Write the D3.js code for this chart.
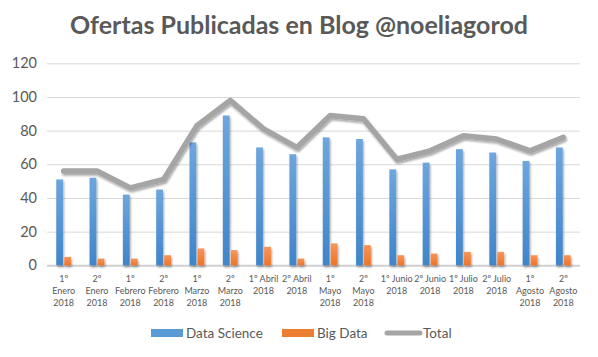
<!DOCTYPE html>
<html><head><meta charset="utf-8">
<script src="https://cdn.jsdelivr.net/npm/d3@7"></script>
<style>body{margin:0;background:#fff}svg{display:block}text{font-family:Lato,"Open Sans",sans-serif}</style>
</head><body><svg id="c" width="598" height="357"></svg>
<script>
const categories = [["1º","Enero","2018"],["2º","Enero","2018"],["1º","Febrero","2018"],["2º","Febrero","2018"],["1º","Marzo","2018"],["2º","Marzo","2018"],["1º Abril","2018"],["2º Abril","2018"],["1º","Mayo","2018"],["2º","Mayo","2018"],["1º Junio","2018"],["2º Junio","2018"],["1º Julio","2018"],["2º Julio","2018"],["1º","Agosto","2018"],["2º","Agosto","2018"]];
const dataScience = [51,52,42,45,73,89,70,66,76,75,57,61,69,67,62,70];
const bigData = [5,4,4,6,10,9,11,4,13,12,6,7,8,8,6,6];
const total = [56,56,46,51,83,98,81,70,89,87,63,68,77,75,68,76];
const yTicks = [0,20,40,60,80,100,120];
const seriesNames = ["Data Science","Big Data","Total"];
const title = "Ofertas Publicadas en Blog @noeliagorod";

const svg = d3.select("#c");
const W=598,H=357, L=47, R=580, T=63.3, B=265.3;
const keys = categories.map(c=>c.join(" "));
const x = d3.scaleBand().domain(keys).range([L,R]);
const y = d3.scaleLinear().domain([0,120]).range([B,T]);
const txt="#595959";

const defs = svg.append("defs");
function grad(id,c1,c2){const g=defs.append("linearGradient").attr("id",id).attr("x1",0).attr("y1",0).attr("x2",0).attr("y2",1);
 g.append("stop").attr("offset","0%").attr("stop-color",c1);g.append("stop").attr("offset","100%").attr("stop-color",c2);}
grad("gb","#6ea6dd","#3f85c9");
grad("go","#f7955a","#ee7427");
const f=defs.append("filter").attr("id","sh").attr("x","-50%").attr("y","-50%").attr("width","200%").attr("height","200%");
f.append("feGaussianBlur").attr("in","SourceAlpha").attr("stdDeviation",1.2).attr("result","b");
f.append("feOffset").attr("in","b").attr("dx",1).attr("dy",1.5).attr("result","o");
f.append("feComponentTransfer").attr("in","o").attr("result","o2").append("feFuncA").attr("type","linear").attr("slope",0.35);
const m=f.append("feMerge");m.append("feMergeNode").attr("in","o2");m.append("feMergeNode").attr("in","SourceGraphic");

svg.append("text").attr("x",W/2).attr("y",34).attr("text-anchor","middle").attr("font-size",25).attr("font-weight","bold").attr("fill",txt).text(title);

const yAxis = d3.axisLeft(y).tickValues(yTicks).tickSize(-(R-L)).tickPadding(10);
const ga = svg.append("g").attr("transform",`translate(${L},0)`).call(yAxis);
ga.select(".domain").remove();
ga.selectAll(".tick line").attr("stroke","#d9d9d9").attr("stroke-width",1);
ga.selectAll(".tick text").attr("fill",txt).attr("font-size",14.5).attr("font-family","Lato,sans-serif");
ga.selectAll(".tick").filter(d=>d===0).select("line").attr("stroke","#d0d0d0").attr("stroke-width",2);

const bw=6.8, gap=1.2;
const gBars = svg.append("g").attr("filter","url(#sh)");
gBars.selectAll("rect.ds").data(dataScience).join("rect")
 .attr("x",(d,i)=>x(keys[i])+x.bandwidth()/2-bw-gap/2).attr("width",bw)
 .attr("y",d=>y(d)).attr("height",d=>B-y(d)).attr("fill","url(#gb)");
gBars.selectAll("rect.bd").data(bigData).join("rect")
 .attr("x",(d,i)=>x(keys[i])+x.bandwidth()/2+gap/2).attr("width",bw)
 .attr("y",d=>y(d)).attr("height",d=>B-y(d)).attr("fill","url(#go)");

const line = d3.line().x((d,i)=>x(keys[i])+x.bandwidth()/2).y(d=>y(d));
svg.append("path").datum(total).attr("d",line).attr("fill","none").attr("stroke","#a5a5a5").attr("stroke-width",5.5).attr("stroke-linejoin","round").attr("stroke-linecap","round").attr("filter","url(#sh)");

const gx = svg.append("g");
categories.forEach((c,i)=>{
  const t = gx.append("text").attr("text-anchor","middle").attr("font-size",9).attr("fill",txt);
  c.forEach((ln,k)=>t.append("tspan").attr("x",x(keys[i])+x.bandwidth()/2).attr("y",281.5+k*12.3).text(ln));
});

const lg = svg.append("g").attr("font-size",13.5).attr("fill",txt);
const items=[{n:seriesNames[0],x:151,t:"rect",c:"#5b9bd5"},{n:seriesNames[1],x:282,t:"rect",c:"#ed7d31"},{n:seriesNames[2],x:385,t:"line",c:"#a5a5a5"}];
items.forEach(it=>{
  if(it.t==="rect") lg.append("rect").attr("x",it.x).attr("y",329).attr("width",32).attr("height",8).attr("fill",it.c);
  else lg.append("line").attr("x1",it.x+2).attr("x2",it.x+35).attr("y1",333).attr("y2",333).attr("stroke",it.c).attr("stroke-width",5).attr("stroke-linecap","round");
  lg.append("text").attr("x",it.t==="rect"?it.x+35:it.x+38).attr("y",337.5).attr("fill",txt).text(it.n);
});
</script></body></html>
